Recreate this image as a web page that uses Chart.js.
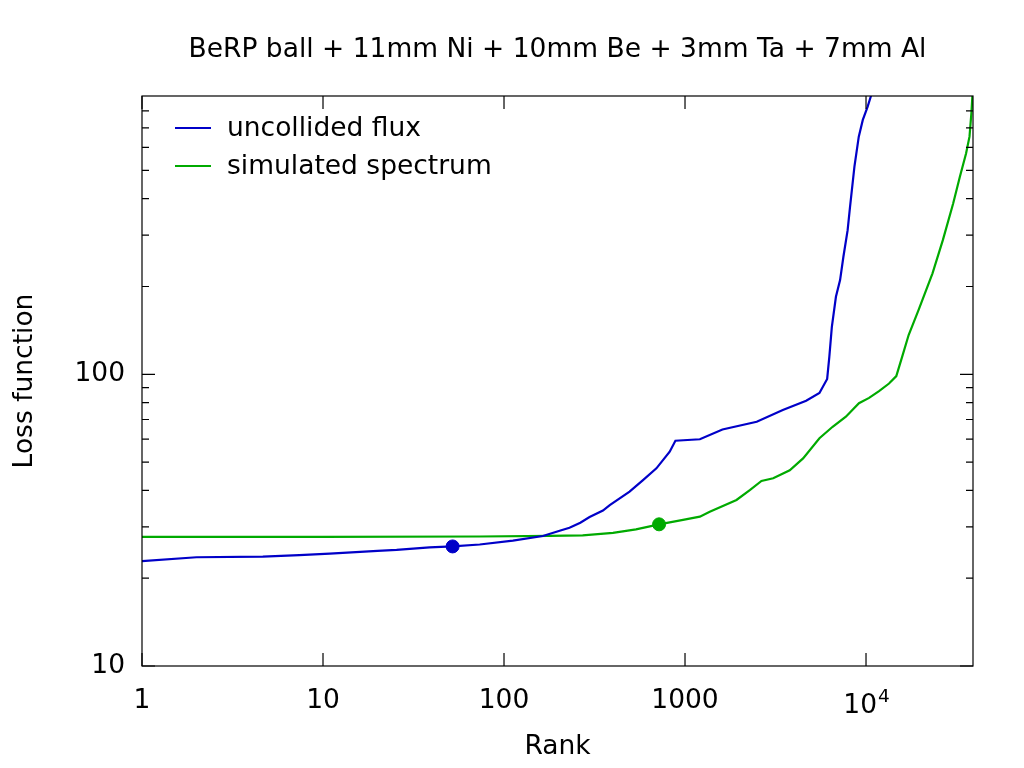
<!DOCTYPE html>
<html lang="en">
<head>
<meta charset="UTF-8">
<title>BeRP ball loss function</title>
<style>
  body { margin: 0; background: #fff; }
  .chart-container { position: relative; width: 1024px; height: 768px; }
</style>
</head>
<body>
<div class="chart-container">
    <canvas id="myChart"></canvas>
</div>
<script src="https://cdn.jsdelivr.net/npm/chart.js@4.4.0/dist/chart.umd.min.js"></script>
<script>
// uncollided flux
const fluxRank = [1, 2, 4.65, 7.4, 10.9, 20, 25.5, 38.8, 52, 73.4, 112, 164, 203, 230, 264, 297, 352, 384, 494, 586, 695, 823, 885,
    1208, 1610, 2490, 3470, 4670, 5530, 6100, 6270, 6475, 6820, 7190, 7500, 7915, 8160, 8630, 9120, 9600, 10200, 10650, 11000]
const fluxLoss = [22.9, 23.6, 23.7, 24.0, 24.3, 24.8, 25.0, 25.5, 25.7, 26.1, 26.9, 27.9, 29.1, 29.8, 31.0, 32.4, 34.1, 35.6, 39.6, 43.4, 47.6, 54.3, 59.2,
    59.9, 64.7, 68.8, 75.4, 81.2, 86.3, 96.4, 114.8, 145.5, 184.5, 210.5, 253, 312, 375, 515, 653, 745, 826, 900, 960]

// simulated spectrum
const simRank = [1, 10, 73, 178, 272, 400, 536, 719, 975, 1208, 1370, 1925, 2280, 2645, 3070, 3790, 4490, 5530, 6540, 7740, 9140,
    10400, 11800, 13400, 14700, 15830, 17200, 19500, 23300, 26600, 30300, 33000, 35700, 37300, 38200, 38700, 39000]
const simLoss = [27.7, 27.7, 27.8, 27.95, 28.05, 28.6, 29.4, 30.6, 31.7, 32.5, 33.8, 37.1, 40.1, 43.1, 44.0, 46.9, 51.5, 60.4, 66.1, 71.6, 79.6,
    83, 87.6, 93, 98.6, 114.8, 136.4, 166, 222, 289, 385, 476, 572, 653, 785, 900, 1000]

// highlighted points
const fluxMark = [52, 25.7]
const simMark = [719, 30.6]

const xTicks = [1, 10, 100, 1000, 10000]
const yTicks = [10, 100]
const yMinor = [20, 30, 40, 50, 60, 70, 80, 90, 200, 300, 400, 500, 600, 700, 800]

const titleText = 'BeRP ball + 11mm Ni + 10mm Be + 3mm Ta + 7mm Al'
const legendNames = ['uncollided flux', 'simulated spectrum']

const blue = '#0000c8'
const green = '#00aa00'
const fontFamily = "'DejaVu Sans', sans-serif"

const toPoints = (xs, ys) => xs.map((x, i) => ({x: x, y: ys[i]}))

Chart.defaults.font.family = fontFamily
Chart.defaults.color = '#000'

// title, frame, inward ticks, 10^4 label and the legend inside the plot
const framePlugin = {
    id: 'frame',
    afterDraw(chart) {
        const ctx = chart.ctx
        const a = chart.chartArea
        const xs = chart.scales.x
        const ys = chart.scales.y
        ctx.save()

        ctx.fillStyle = '#000'
        ctx.font = '26.5px ' + fontFamily
        ctx.textAlign = 'center'
        ctx.textBaseline = 'alphabetic'
        ctx.fillText(titleText, (a.left + a.right) / 2, 57)

        ctx.strokeStyle = '#000'
        ctx.lineWidth = 1.2
        ctx.strokeRect(a.left, a.top, a.right - a.left, a.bottom - a.top)
        ctx.beginPath()
        xTicks.forEach(v => {
            const px = xs.getPixelForValue(v)
            ctx.moveTo(px, a.bottom); ctx.lineTo(px, a.bottom - 13)
            ctx.moveTo(px, a.top); ctx.lineTo(px, a.top + 13)
        })
        yTicks.forEach(v => {
            const py = ys.getPixelForValue(v)
            ctx.moveTo(a.left, py); ctx.lineTo(a.left + 13, py)
            ctx.moveTo(a.right, py); ctx.lineTo(a.right - 13, py)
        })
        yMinor.forEach(v => {
            const py = ys.getPixelForValue(v)
            ctx.moveTo(a.left, py); ctx.lineTo(a.left + 7, py)
            ctx.moveTo(a.right, py); ctx.lineTo(a.right - 7, py)
        })
        ctx.stroke()

        // 10^4 with a real superscript
        const p4 = xs.getPixelForValue(10000)
        ctx.font = '26.5px ' + fontFamily
        const wBase = ctx.measureText('10').width
        ctx.font = '18.5px ' + fontFamily
        const wExp = ctx.measureText('4').width
        const x0 = p4 - (wBase + wExp) / 2
        ctx.textAlign = 'left'
        ctx.font = '26.5px ' + fontFamily
        ctx.fillText('10', x0, a.bottom + 47)
        ctx.font = '18.5px ' + fontFamily
        ctx.fillText('4', x0 + wBase + 1, a.bottom + 36)

        // legend
        const colors = [blue, green]
        ctx.font = '26.5px ' + fontFamily
        legendNames.forEach((name, i) => {
            const y = a.top + 32 + i * 38
            ctx.strokeStyle = colors[i]
            ctx.lineWidth = 2
            ctx.beginPath()
            ctx.moveTo(a.left + 33, y); ctx.lineTo(a.left + 69, y)
            ctx.stroke()
            ctx.fillText(name, a.left + 85, y + 8)
        })
        ctx.restore()
    }
}

const ctx = document.getElementById('myChart')

new Chart(ctx, {
    type: 'line',
    data: {
        datasets: [
            {label: legendNames[0], data: toPoints(fluxRank, fluxLoss), borderColor: blue, borderWidth: 2.2, pointRadius: 0, tension: 0},
            {label: legendNames[1], data: toPoints(simRank, simLoss), borderColor: green, borderWidth: 2.2, pointRadius: 0, tension: 0},
            {label: 'flux point', data: [{x: fluxMark[0], y: fluxMark[1]}], showLine: false, pointRadius: 6.5,
                pointBackgroundColor: blue, pointBorderColor: blue},
            {label: 'sim point', data: [{x: simMark[0], y: simMark[1]}], showLine: false, pointRadius: 6.5,
                pointBackgroundColor: green, pointBorderColor: green}
        ]
    },
    options: {
        responsive: true,
        maintainAspectRatio: false,
        animation: false,
        layout: {padding: {left: 0, right: 51, top: 96, bottom: 0}},
        plugins: {
            legend: {display: false},
            tooltip: {enabled: false},
            title: {display: false}
        },
        scales: {
            x: {
                type: 'logarithmic',
                min: 1,
                max: 39000,
                grid: {display: false, drawTicks: false},
                border: {display: false},
                afterFit: s => { s.height = 102 },
                afterBuildTicks: s => { s.ticks = xTicks.map(v => ({value: v})) },
                ticks: {
                    font: {size: 26.5},
                    padding: 19,
                    maxRotation: 0,
                    autoSkip: false,
                    callback: v => v === 10000 ? '' : String(v)
                },
                title: {display: true, text: 'Rank', font: {size: 26.5}, padding: {top: 0, bottom: 5}}
            },
            y: {
                type: 'logarithmic',
                min: 10,
                max: 900,
                grid: {display: false, drawTicks: false},
                border: {display: false},
                afterFit: s => { s.width = 142 },
                afterBuildTicks: s => { s.ticks = yTicks.map(v => ({value: v})) },
                ticks: {
                    font: {size: 26.5},
                    padding: 17,
                    autoSkip: false,
                    callback: v => String(v)
                },
                title: {display: true, text: 'Loss function', font: {size: 26.5}, padding: {top: 9, bottom: 0}}
            }
        }
    },
    plugins: [framePlugin]
})
</script>
</body>
</html>
